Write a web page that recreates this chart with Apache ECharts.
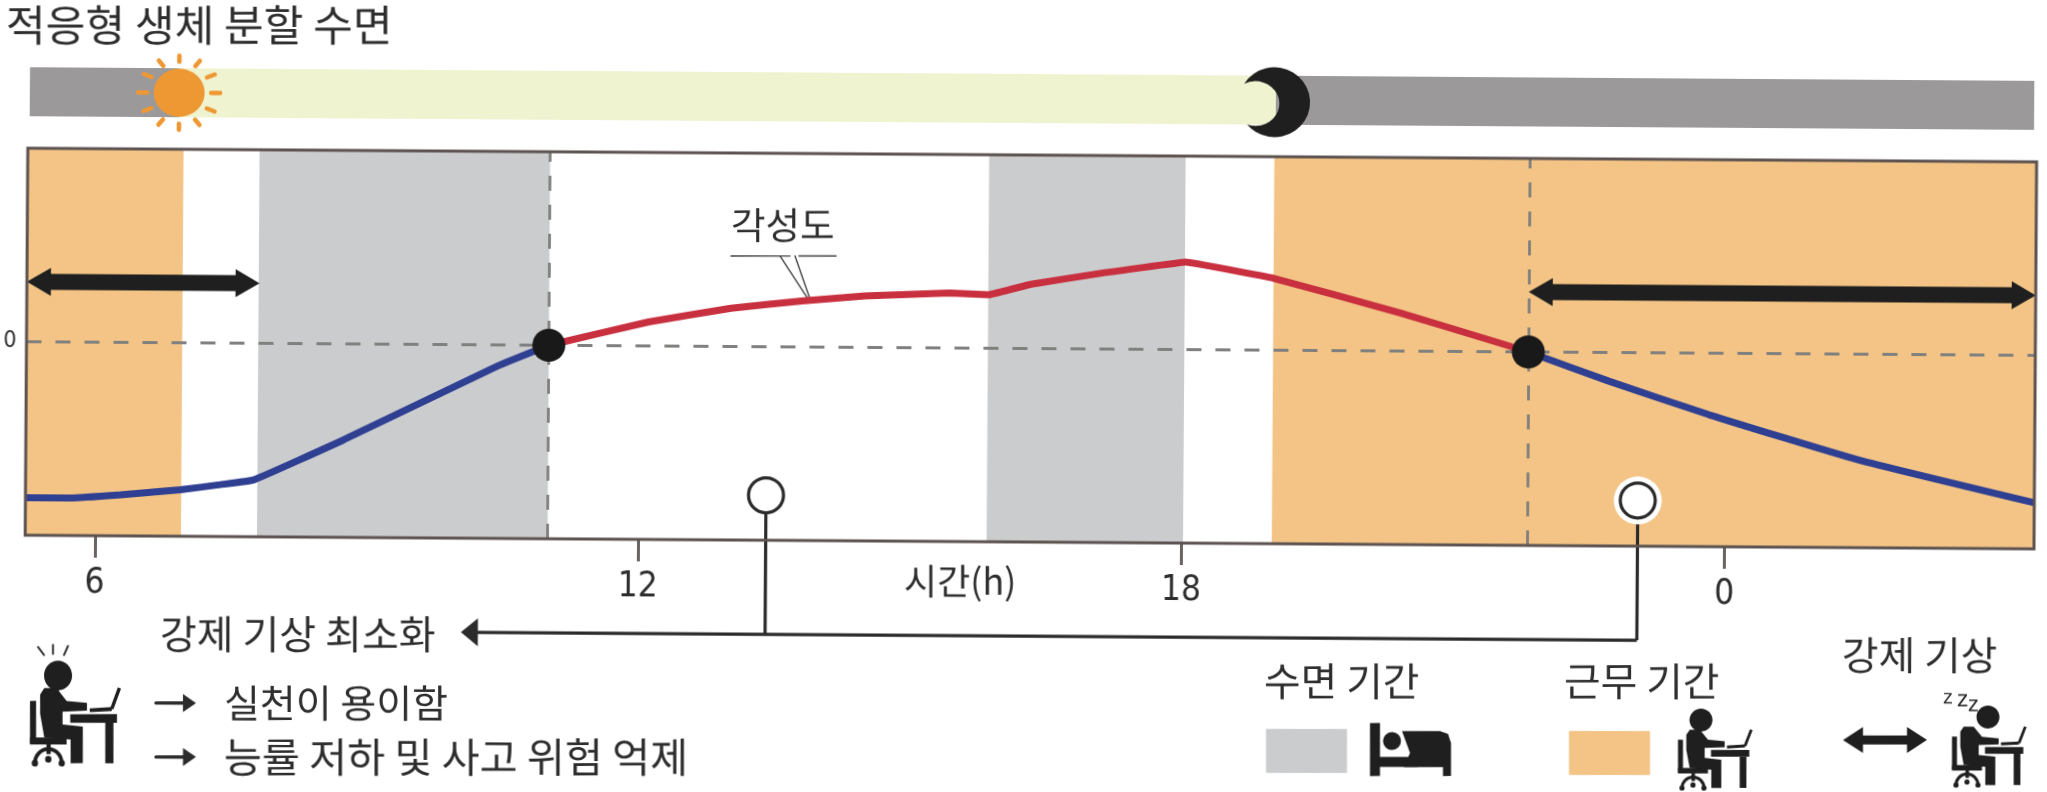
<!DOCTYPE html>
<html><head><meta charset="utf-8">
<style>html,body{margin:0;padding:0;background:#fff;overflow:hidden;width:2047px;height:792px}
#c{width:2047px;height:792px;transform:rotate(0.39deg);transform-origin:1023.5px 396px}</style>
<script src="https://cdn.jsdelivr.net/npm/echarts@6/dist/echarts.min.js"></script>
</head><body><div id="c"></div>
<script>
// ---- data (hours run past midnight: 24 = 0h) ----
const hourRange = [5.23, 27.42];
const hourTicks = [6, 12, 18, 24];
const alertnessMorning = [[5.23,-4.03],[5.72,-4.03],[6.28,-3.94],[6.94,-3.80],[7.38,-3.66],[7.75,-3.53],[8.74,-2.48],[10.44,-0.54],[11.0,0]];
const alertnessDay = [[11.0,0],[12.10,0.62],[13.01,0.99],[13.79,1.19],[14.49,1.33],[15.42,1.42],[15.85,1.38],[16.32,1.66],[17.1,1.96],[18.03,2.26],[19.0,1.86],[20.41,0.98],[21.51,0.22],[21.82,0]];
const alertnessNight = [[21.82,0],[22.71,-0.74],[23.82,-1.59],[25.47,-2.73],[27.42,-3.81]];
const crossings = [[11.0,0],[21.82,0]];
const sleepPeriods = [[7.79,11.0],[15.85,18.02]];
const workPeriods = [[5.23,6.95],[19.0,27.42]];
const forcedWake = [[5.23,7.8,1.55],[21.82,27.42,1.55]];
const skyNight = [[5.25,6.9],[19.0,27.4]];
const skyDay = [[6.9,19.02]];
const sunHour = 6.9, moonHour = 19.0;
const markers = [[13.41,-3.84,0],[23.04,-3.82,1]];
const connectorLevel = -7.43, connectorTip = 10.05;

const INK='#1f1f1f', TXT='#2e2e2e', ORANGE='#f3c485', GRAY='#cbcccd', DASH='#80807e';
const KR='"Noto Sans CJK KR"';
const NUM='"DejaVu Sans Condensed","Liberation Sans",sans-serif';
const TILT=0.39*Math.PI/180;

function arrowPts(x0,x1,y,head,hh,sh){
  return [[x0,y],[x0+head,y-hh],[x0+head,y-sh],[x1-head,y-sh],[x1-head,y-hh],[x1,y],[x1-head,y+hh],[x1-head,y+sh],[x0+head,y+sh],[x0+head,y+hh]];
}
function bandSeries(name,data,color,xi,yi){
  return {name,type:'custom',xAxisIndex:xi,yAxisIndex:yi,z:1,silent:true,data,encode:{x:[0,1]},
    renderItem(p,api){
      const a=api.coord([api.value(0),0])[0],b=api.coord([api.value(1),0])[0];
      return {type:'rect',shape:{x:a,y:p.coordSys.y,width:b-a,height:p.coordSys.height},style:{fill:color}};
    }};
}
const series=[
  bandSeries('수면 기간',sleepPeriods,GRAY,0,0),
  bandSeries('근무 기간',workPeriods,ORANGE,0,0),
  bandSeries('밤',skyNight,'#9b999a',1,1),
  bandSeries('낮',skyDay,'#eff3cf',1,1),
  {name:'해',type:'custom',xAxisIndex:1,yAxisIndex:1,z:3,silent:true,data:[[sunHour,0.5]],
   renderItem(p,api){
     const c=api.coord([api.value(0),api.value(1)]),ch=[{type:'ellipse',shape:{cx:c[0],cy:c[1],rx:25.5,ry:24},style:{fill:'#ee9834'}}];
     for(let i=0;i<12;i++){
       const t=i*Math.PI/6;
       ch.push({type:'line',shape:{x1:c[0]+Math.cos(t)*32,y1:c[1]+Math.sin(t)*31,x2:c[0]+Math.cos(t)*41,y2:c[1]+Math.sin(t)*37},
         style:{stroke:'#ee9834',lineWidth:4.5,lineCap:'round'}});
     }
     return {type:'group',children:ch};
   }},
  {name:'달',type:'custom',xAxisIndex:1,yAxisIndex:1,z:3,silent:true,data:[[moonHour,0.5]],
   renderItem(p,api){
     const c=api.coord([api.value(0),api.value(1)]);
     return {type:'path',shape:{pathData:'M1,15 A34,36 0 1 1 4,57 A23,23 0 1 0 1,15 Z',layout:'cover',x:c[0]-30,y:c[1]-33,width:66,height:70},style:{fill:INK}};
   }},
  {name:'기준선',type:'line',data:[],z:4,silent:true,markLine:{silent:true,symbol:'none',label:{show:false},animation:false,
     lineStyle:{color:DASH,type:[15,14],width:2.8},
     data:[{yAxis:0},...crossings.map(c=>({xAxis:c[0]}))]}},
  {name:'각성도 아침',type:'line',data:alertnessMorning,symbol:'none',z:5,lineStyle:{color:'#2f3f92',width:7},smooth:0.1},
  {name:'각성도 낮',type:'line',data:alertnessDay,symbol:'none',z:5,lineStyle:{color:'#c9303f',width:7},smooth:0.05},
  {name:'각성도 밤',type:'line',data:alertnessNight,symbol:'none',z:5,lineStyle:{color:'#2f3f92',width:7},smooth:0.15},
  {name:'교차점',type:'scatter',data:crossings,symbol:'circle',symbolSize:33,z:6,itemStyle:{color:'#191919',opacity:1}},
  {name:'강제 기상',type:'custom',z:6,silent:true,data:forcedWake,encode:{x:[0,1],y:2},
   renderItem(p,api){
     const a=api.coord([api.value(0),api.value(2)]),b=api.coord([api.value(1),api.value(2)]);
     return {type:'polygon',shape:{points:arrowPts(a[0],b[0],a[1],24,14,8)},style:{fill:INK}};
   }},
  {name:'연결선',type:'custom',z:7,silent:true,data:markers,encode:{x:0,y:1},
   renderItem(p,api){
     const x=api.value(0),y=api.value(1),c=api.coord([x,y]),e=api.coord([x,connectorLevel]);
     return {type:'line',shape:{x1:c[0],y1:c[1],x2:e[0],y2:e[1]},style:{stroke:'#2b2b2b',lineWidth:3.2}};
   }},
  {name:'화살선',type:'custom',z:7,silent:true,data:[[connectorTip,markers[1][0],connectorLevel]],encode:{x:[0,1],y:2},
   renderItem(p,api){
     const a=api.coord([api.value(0),api.value(2)]),b=api.coord([api.value(1),api.value(2)]);
     return {type:'group',children:[
       {type:'line',shape:{x1:a[0]+14,y1:a[1],x2:b[0],y2:b[1]},style:{stroke:'#2b2b2b',lineWidth:3.2}},
       {type:'polygon',shape:{points:[[a[0],a[1]],[a[0]+17,a[1]-14],[a[0]+17,a[1]+14]]},style:{fill:'#2b2b2b'}}]};
   }},
  {name:'표지',type:'custom',z:8,silent:true,data:markers,encode:{x:0,y:1},
   renderItem(p,api){
     const c=api.coord([api.value(0),api.value(1)]),ch=[];
     if(api.value(2))ch.push({type:'circle',shape:{cx:c[0],cy:c[1],r:24},style:{fill:'#fff'}});
     ch.push({type:'circle',shape:{cx:c[0],cy:c[1],r:17.5},style:{fill:'#fff',stroke:'#2b2b2b',lineWidth:3.2}});
     return {type:'group',children:ch};
   }},
  {name:'틀',type:'custom',z:9,silent:true,data:[[hourRange[0],5]],encode:{x:0,y:1},
   renderItem(p){
     const s=p.coordSys;
     return {type:'rect',shape:{x:s.x,y:s.y,width:s.width,height:s.height},style:{fill:'none',stroke:'#5d5351',lineWidth:3}};
   }}
];

// ---- page-space decorations ----
function txt(t,x,y,size,extra){
  return {type:'text',style:Object.assign({text:t,x,y,fontFamily:KR,fontSize:size,fill:TXT,textVerticalAlign:'middle',textAlign:'left'},extra||{})};
}
function line(x1,y1,x2,y2,w,c){return {type:'line',shape:{x1,y1,x2,y2},style:{stroke:c||INK,lineWidth:w,lineCap:'round'}};}
function smallArrow(x0,x1,y){return {type:'group',children:[line(x0,y,x1-8,y,3.4,'#2b2b2b'),
  {type:'polygon',shape:{points:[[x1,y],[x1-13,y-9],[x1-13,y+9]]},style:{fill:'#2b2b2b'}}]};}
function person(ox,oy,sx,sy,headX,headY){
  const f={fill:INK};
  const ch=[
    {type:'ellipse',shape:{cx:headX,cy:headY,rx:11.5,ry:11.5},style:f},
    {type:'polygon',shape:{points:[[11.7,21.7],[21.7,21.7],[30,31.7],[46.7,33.3],[46.7,39.3],[26.7,40],[26.7,50],[43.3,51.7],[43.3,80],[33.3,80],[33.3,61.7],[11.7,60],[8.3,41.7],[8.3,26.7]]},style:f},
    {type:'rect',shape:{x:0,y:31.7,width:5,height:33},style:f},
    {type:'rect',shape:{x:0,y:60,width:30,height:5.5},style:f},
    {type:'rect',shape:{x:13.5,y:65,width:3.5,height:8},style:f},
    {type:'arc',shape:{cx:15,cy:80,r:11,startAngle:Math.PI,endAngle:2*Math.PI},style:{stroke:INK,fill:'none',lineWidth:3}},
    {type:'circle',shape:{cx:4,cy:80,r:2.6},style:f},{type:'circle',shape:{cx:15,cy:77,r:2.6},style:f},{type:'circle',shape:{cx:26,cy:80,r:2.6},style:f},
    {type:'rect',shape:{x:33,y:42,width:38.3,height:6.7},style:f},
    {type:'rect',shape:{x:61.7,y:48.7,width:6.7,height:31.3},style:f},
    {type:'line',shape:{x1:49,y1:39,x2:67,y2:38},style:{stroke:INK,lineWidth:3}},
    {type:'line',shape:{x1:67,y1:38,x2:73.3,y2:21.7},style:{stroke:INK,lineWidth:2.8}}
  ];
  return {type:'group',x:ox,y:oy,scaleX:sx,scaleY:sy,children:ch};
}
const bed={type:'group',x:1370,y:723,children:[
  {type:'rect',shape:{x:0,y:0,width:10,height:53},style:{fill:INK}},
  {type:'circle',shape:{cx:22,cy:18,r:9},style:{fill:INK}},
  {type:'polygon',shape:{points:[[32,8],[70,8],[78,11],[81,20],[81,53],[73,53],[73,44],[34,44],[40,30]]},style:{fill:INK}},
  {type:'rect',shape:{x:8,y:34,width:40,height:10},style:{fill:INK}}
]};

const overlay=[
  txt('적응형 생체 분할 수면',6,25,43.2,{}),
  txt('각성도',731,225,37.5,{}),
  line(731,256,790,256,1.4,'#444'),line(799,256,836,256,1.4,'#444'),
  line(780,256,808,299,1.4,'#444'),line(795,256,810,299,1.4,'#444'),
  txt('시간(h)',904,581,36,{}),
  txt('강제 기상 최소화',160,634,40,{}),
  smallArrow(156,196,703),smallArrow(156,196,757),
  txt('실천이 용이함',224,703,39,{}),
  txt('능률 저하 및 사고 위험 억제',224,757,41.3,{}),
  txt('수면 기간',1264,681,39.8,{}),
  txt('근무 기간',1564,681,39.8,{}),
  txt('강제 기상',1842,655,39.8,{}),
  {type:'rect',shape:{x:1266,y:729,width:81,height:44},style:{fill:GRAY}},
  {type:'rect',shape:{x:1569,y:731,width:81,height:44},style:{fill:ORANGE}},
  {type:'polygon',shape:{points:arrowPts(1843,1927,740,20,13,4.5)},style:{fill:INK}},
  line(38,647,44,655,2,'#333'),line(53,645,53,654,2,'#333'),line(68,646,64,655,2,'#333'),
  person(30,660,1.22,1.29,23,12),
  bed,
  person(1678,708,1,1,23,12),
  person(1952,705,1,1,36,12),
  txt('z',1943,698,20,{fontFamily:'Liberation Sans'}),txt('z',1957,700,23,{fontFamily:'Liberation Sans'}),txt('z',1968,705,22,{fontFamily:'Liberation Sans'})
];

const chart=echarts.init(document.getElementById('c'),null,{renderer:'canvas'});
chart.setOption({
  animation:false,backgroundColor:'#fff',
  grid:[{left:25,top:155,width:2010,height:387,containLabel:false},{left:26,top:74,width:2008,height:49}],
  xAxis:[
    {type:'value',gridIndex:0,position:'bottom',min:hourRange[0],max:hourRange[1],splitLine:{show:false},axisLine:{show:false,onZero:false},
     axisTick:{show:true,customValues:hourTicks,length:22,lineStyle:{color:'#6a6463',width:3}},
     axisLabel:{show:true,customValues:hourTicks,margin:30,formatter:v=>String(v%24),fontFamily:NUM,fontSize:35,color:TXT}},
    {type:'value',gridIndex:1,min:hourRange[0],max:hourRange[1],show:false,splitLine:{show:false}}
  ],
  yAxis:[
    {type:'value',gridIndex:0,min:-5,max:5,splitLine:{show:false},axisLine:{show:false,onZero:false},axisTick:{show:false},
     axisLabel:{show:true,customValues:[0],margin:10,fontFamily:NUM,fontSize:23,color:TXT}},
    {type:'value',gridIndex:1,min:0,max:1,show:false,splitLine:{show:false}}
  ],
  series,
  graphic:{elements:[{type:'group',x:0,y:0,originX:1023.5,originY:396,rotation:TILT,children:overlay,silent:true}]}
});
</script></body></html>
